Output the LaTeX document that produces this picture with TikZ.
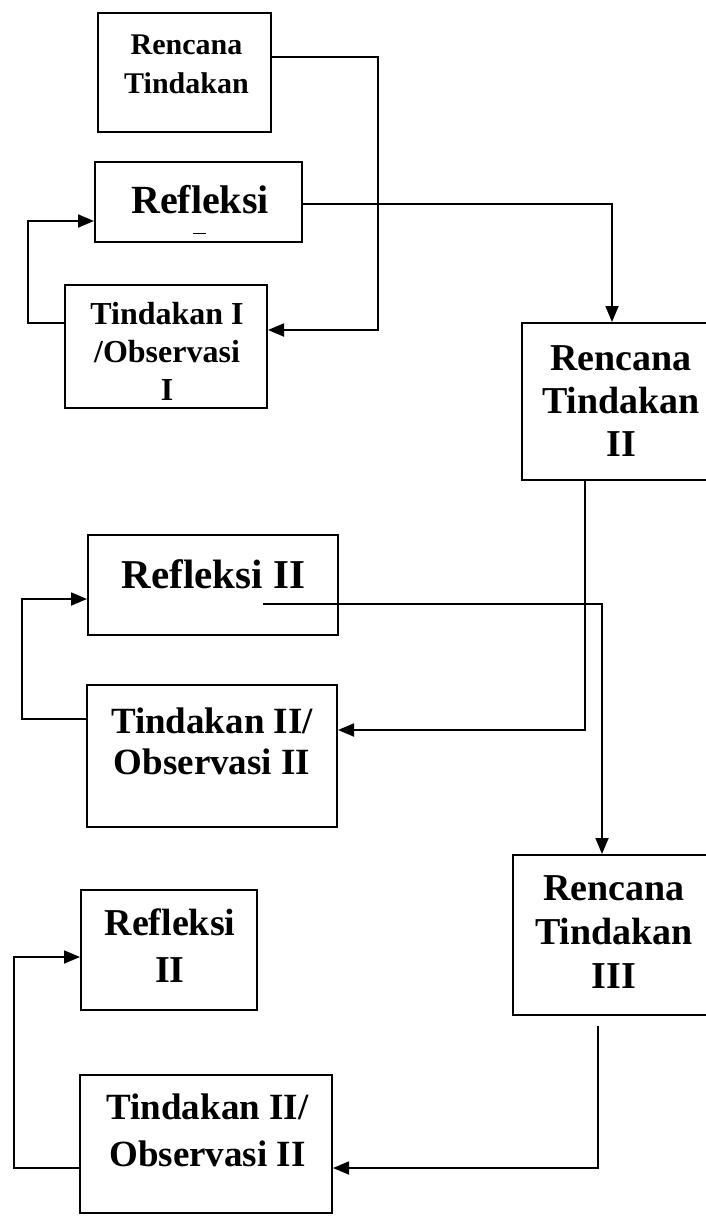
\documentclass[tikz,border=0pt]{standalone}
\usepackage{fontspec}
\setmainfont{Liberation Serif}
\usetikzlibrary{arrows.meta}
\begin{document}
\begin{tikzpicture}[x=1pt,y=-1pt,
  box/.style={draw, line width=2pt, inner sep=0pt, rectangle},
  lbl/.style={inner sep=0pt, align=center},
  conn/.style={line width=1.8pt},
  arr/.style={conn, -{Triangle[length=16pt,width=13pt]}}]
\useasboundingbox (0,0) rectangle (706,1217);
\fill[white] (0,0) rectangle (706,1217);

% boxes
\node[box, minimum width=173pt, minimum height=119pt] (A) at (184.5,72.5) {};
\node[box, minimum width=207pt, minimum height=80pt]  (B) at (198.5,202) {};
\node[box, minimum width=202pt, minimum height=123pt] (C) at (166,346.5) {};
\node[box, minimum width=190pt, minimum height=157pt] (D) at (617,401.5) {};
\node[box, minimum width=250pt, minimum height=100pt] (E) at (213,585) {};
\node[box, minimum width=250pt, minimum height=142pt] (F) at (212,756) {};
\node[box, minimum width=199pt, minimum height=160pt] (G) at (612.5,935) {};
\node[box, minimum width=176pt, minimum height=120pt] (H) at (169,950) {};
\node[box, minimum width=252pt, minimum height=138pt] (I) at (206,1144) {};

% labels
\node[lbl, font=\bfseries\fontsize{30}{39}\selectfont] (tA) at (186.5,64) {Rencana\\Tindakan};
\node[lbl, font=\bfseries\fontsize{40}{48}\selectfont] (tB) at (200,200) {Refleksi};
\draw[line width=1pt] (193,233) -- (206,233);
\node[lbl, font=\bfseries\fontsize{32}{38}\selectfont] (tC) at (167,351) {Tindakan I\\/Observasi\\I};
\node[lbl, font=\bfseries\fontsize{38}{43}\selectfont] (tD) at (621,401) {Rencana\\Tindakan\\II};
\node[lbl, font=\bfseries\fontsize{41}{48}\selectfont] (tE) at (213.5,574) {Refleksi II};
\node[lbl, font=\bfseries\fontsize{37}{41}\selectfont] (tF) at (212,741) {Tindakan II/\\Observasi II};
\node[lbl, font=\bfseries\fontsize{38}{44}\selectfont] (tG) at (614,932) {Rencana\\Tindakan\\III};
\node[lbl, font=\bfseries\fontsize{38}{47}\selectfont] (tH) at (170,946) {Refleksi\\II};
\node[lbl, font=\bfseries\fontsize{37}{47}\selectfont] (tI) at (207.5,1130) {Tindakan II/\\Observasi II};

% connectors
\draw[arr] ([yshift=15.5pt]A.east) -- ++(106,0) |- ([yshift=16.5pt]C.east);
\draw[arr] ([yshift=-2pt]B.east) -| ([xshift=-5pt]D.north);
\draw[arr] ([yshift=23.5pt]C.west) -- ++(-36,0) |- ([yshift=-19pt]B.west);
\draw[arr] ([xshift=-32pt]D.south) |- ([yshift=26pt]F.east);
\draw[arr] ([xshift=50pt,yshift=-19pt]E.center) -| ([xshift=-10.5pt]G.north);
\draw[arr] ([yshift=37pt]F.west) -- ++(-64,0) |- ([yshift=-14pt]E.west);
\draw[arr] ([xshift=-14.5pt,yshift=-10pt]G.south) |- ([yshift=-24pt]I.east);
\draw[arr] ([yshift=-24pt]I.west) -- ++(-65,0) |- ([yshift=-7pt]H.west);
\end{tikzpicture}
\end{document}
